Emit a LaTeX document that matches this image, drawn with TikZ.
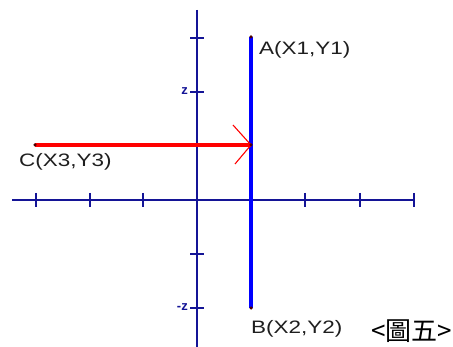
\documentclass[tikz,border=0pt]{standalone}
\usepackage{fontspec}
\setmainfont{Liberation Sans}
\newfontfamily\cjk{Noto Sans CJK TC}
\definecolor{axisblue}{RGB}{20,20,150}
\definecolor{txtgray}{RGB}{30,30,30}
\begin{document}
\begin{tikzpicture}[x=1pt,y=-1pt,
  axis/.style={draw=axisblue,line width=1.8pt},
  tick/.style={draw=axisblue,line width=1.8pt},
  lbl/.style={text=txtgray,inner sep=0pt,font=\fontsize{18}{18}\selectfont},
  zl/.style={text=axisblue,inner sep=0pt,font=\bfseries\fontsize{13}{13}\selectfont},
  dotp/.style={circle,fill=black!70!red,inner sep=0pt,minimum size=3.5pt}]
\useasboundingbox (0,0) rectangle (453,347);
% axes
\coordinate (xl) at (12,200);
\coordinate (xr) at (414,200);
\coordinate (yt) at (197,10);
\coordinate (yb) at (197,347);
\draw[axis] (xl) -- (xr);
\draw[axis] (yt) -- (yb);
\foreach \x in {36,90,143,251,305,360,414} \draw[tick] (\x,193) -- (\x,207);
\foreach \y in {38,92,146,254,308} \draw[tick] (190,\y) -- (204,\y);
\node[zl,anchor=east] (zp) at (188,91) {z};
\node[zl,anchor=east] (zm) at (188,307) {-z};
% blue segment
\coordinate (A) at (251,37);
\coordinate (B) at (251,308);
\coordinate (M) at (251,145);
\coordinate (C) at (35,145);
\draw[blue,line width=3.8pt] (A) -- (B);
% red arrow
\draw[red,line width=3.8pt] (C) -- (M);
\coordinate (h1) at (233,125);
\coordinate (h2) at (235,164);
\draw[red,line width=1.1pt] (h1) -- (M) -- (h2);
\node[dotp] (dA) at (A) {};
\node[dotp] (dB) at (B) {};
\node[dotp] (dC) at (C) {};
\node[dotp] (dM) at (M) {};
% labels
\node[lbl,anchor=west] (la) at (259,50) {\scalebox{1.25}[1]{A(X1,Y1)}};
\node[lbl,anchor=west] (lc) at (19,162) {\scalebox{1.25}[1]{C(X3,Y3)}};
\node[lbl,anchor=west] (lb) at (251,329) {\scalebox{1.25}[1]{B(X2,Y2)}};
\node[inner sep=0pt,anchor=west,font=\cjk\fontsize{26}{26}\selectfont] (fig) at (371,331) {<圖五>};
\end{tikzpicture}
\end{document}
